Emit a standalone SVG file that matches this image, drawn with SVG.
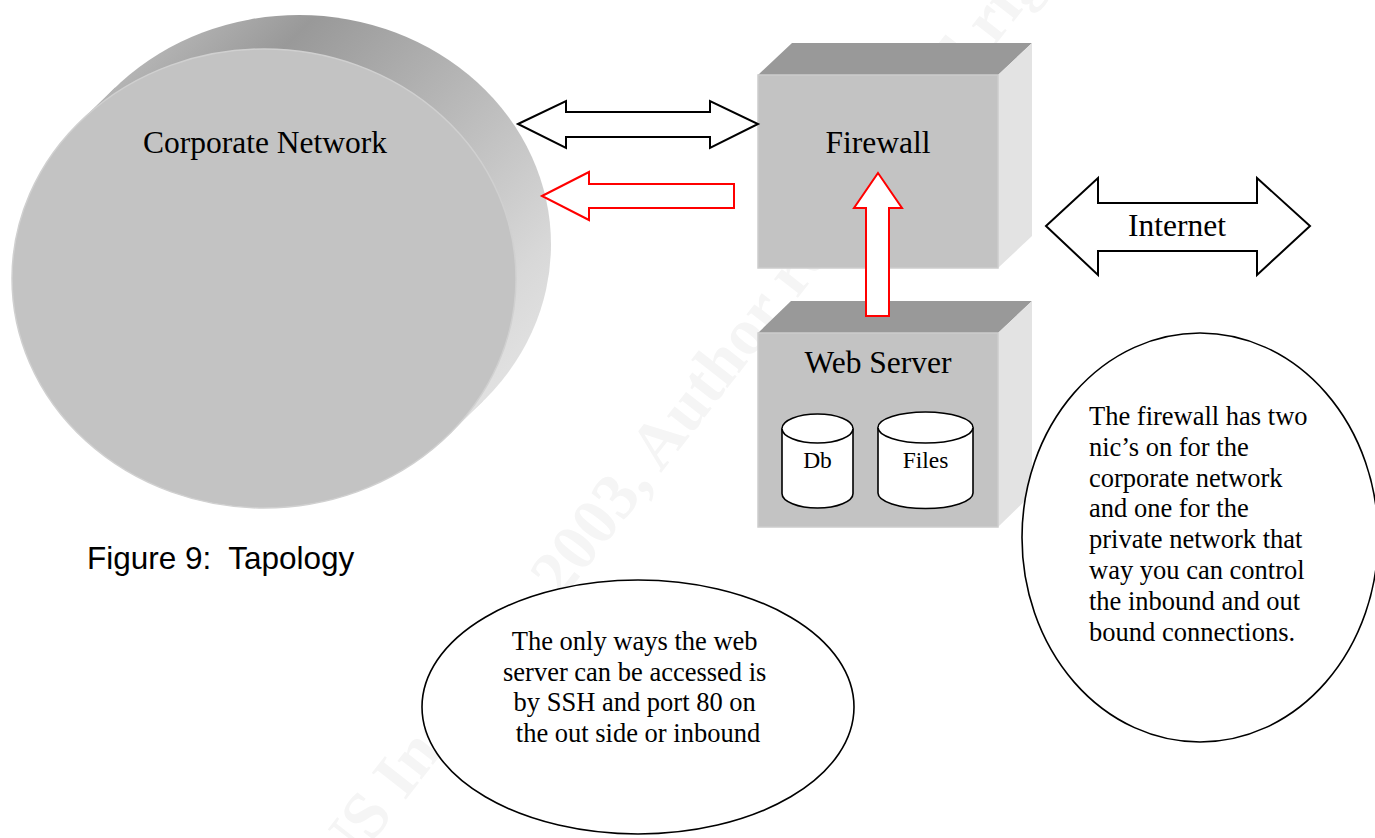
<svg xmlns="http://www.w3.org/2000/svg" width="1375" height="838" viewBox="0 0 1375 838">
  <defs>
    <linearGradient id="diskSide" gradientUnits="userSpaceOnUse" x1="0" y1="0" x2="460" y2="460">
      <stop offset="0.22" stop-color="#b4b4b4"/>
      <stop offset="0.36" stop-color="#999999"/>
      <stop offset="0.86" stop-color="#d8d8d8"/>
      <stop offset="1" stop-color="#e4e4e4"/>
    </linearGradient>
    <style>
      .serif { font-family: "Liberation Serif", "Times New Roman", serif; fill: #000; }
      .label { font-size: 31.5px; text-anchor: middle; }
      .small { font-size: 23.5px; text-anchor: middle; }
      .note { font-size: 26.5px; }
      .front { fill: #c3c3c3; stroke: #cdcdcd; stroke-width: 1.5; }
      .top { fill: #999999; }
      .side { fill: #e3e3e3; }
      .can { fill: #ffffff; stroke: #000; stroke-width: 1.6; }
      .callout { fill: #ffffff; stroke: #000; stroke-width: 1.6; }
      .flow-black { fill: #ffffff; stroke: #000; stroke-width: 2; stroke-linejoin: miter; }
      .flow-red { fill: #ffffff; stroke: #ff0000; stroke-width: 2; stroke-linejoin: miter; }
      .mark { font-family: "Liberation Serif", "Times New Roman", serif; font-size: 66px; font-weight: bold; fill: #f5f5f5; }
    </style>
  </defs>

  <rect width="1375" height="838" fill="#ffffff"/>

  <!-- copyright watermark -->
  <text class="mark" transform="translate(250,999) rotate(-52)">© SANS Institute 2003, Author retains full rights.</text>

  <!-- Corporate network disk -->
  <g id="corporate-network">
    <ellipse cx="299" cy="244.5" rx="252" ry="229.5" fill="url(#diskSide)"/>
    <polygon points="80.1,121.6 115.1,87.6 482.9,401.4 447.9,435.4" fill="url(#diskSide)"/>
    <ellipse cx="264" cy="278.5" rx="252" ry="229.5" fill="#c3c3c3" stroke="#d0d0d0" stroke-width="1.5"/>
    <text class="serif label" x="265" y="153">Corporate Network</text>
  </g>

  <!-- Firewall box -->
  <g id="firewall">
    <polygon class="top" points="758,75 792,43 1032,43 998,75"/>
    <polygon class="side" points="998,75 1032,43 1032,236 998,268"/>
    <rect class="front" x="758" y="75" width="240" height="193"/>
    <text class="serif label" x="878" y="153">Firewall</text>
  </g>

  <!-- Web server box with its stores -->
  <g id="web-server">
    <polygon class="top" points="758,333 791,301 1032,301 998,333"/>
    <polygon class="side" points="998,333 1032,301 1032,494 998,527"/>
    <rect class="front" x="758" y="333" width="240" height="194"/>
    <text class="serif label" x="878" y="373">Web Server</text>
  </g>

  <g id="db">
    <path class="can" d="M782,428.5 A35.5,14.5 0 0 1 853,428.5 L853,493.5 A35.5,14.5 0 0 1 782,493.5 Z"/>
    <path class="can" d="M782,428.5 A35.5,14.5 0 0 0 853,428.5" fill="none"/>
    <text class="serif small" x="817.5" y="468">Db</text>
  </g>

  <g id="files">
    <path class="can" d="M878,427.5 A47.5,15.5 0 0 1 973,427.5 L973,493 A47.5,15.5 0 0 1 878,493 Z"/>
    <path class="can" d="M878,427.5 A47.5,15.5 0 0 0 973,427.5" fill="none"/>
    <text class="serif small" x="925.5" y="468">Files</text>
  </g>

  <!-- Internet link -->
  <g id="internet">
    <polygon class="flow-black" points="1046,226 1098,178 1098,203 1257,203 1257,178 1310,226 1257,275 1257,251 1098,251 1098,275"/>
    <text class="serif label" x="1177" y="236">Internet</text>
  </g>

  <!-- Notes -->
  <g id="note-firewall">
    <ellipse class="callout" cx="1200" cy="537.5" rx="178" ry="204.5"/>
    <text class="serif note" x="1089">
      <tspan x="1089" y="425">The firewall has two</tspan>
      <tspan x="1089" y="456">nic’s on for the</tspan>
      <tspan x="1089" y="486.7">corporate network</tspan>
      <tspan x="1089" y="517.4">and one for the</tspan>
      <tspan x="1089" y="548.2">private network that</tspan>
      <tspan x="1089" y="579">way you can control</tspan>
      <tspan x="1089" y="609.8">the inbound and out</tspan>
      <tspan x="1089" y="640.6">bound connections.</tspan>
    </text>
  </g>

  <g id="note-webserver">
    <ellipse class="callout" cx="638" cy="707" rx="216" ry="127"/>
    <text class="serif note" text-anchor="middle">
      <tspan x="638" y="650">The only ways the web</tspan>
      <tspan x="638" y="680.7">server can be accessed is</tspan>
      <tspan x="638" y="711.4">by SSH and port 80 on</tspan>
      <tspan x="638" y="742.1">the out side or inbound</tspan>
    </text>
  </g>

  <g id="caption">
    <text x="87" y="569" font-family="'Liberation Sans', Arial, sans-serif" font-size="31.5px" fill="#000" style="white-space:pre">Figure 9:  Tapology</text>
  </g>

  <!-- Connectors -->
  <g id="connectors">
    <polygon class="flow-black" points="518,124 566,101 566,112 710,112 710,101 758,124 710,148 710,137 566,137 566,148"/>
    <polygon class="flow-red" points="542,196 589,172 589,184 734,184 734,208 589,208 589,220"/>
    <polygon class="flow-red" points="878,173 902,208 889,208 889,316 866,316 866,208 854,208"/>
  </g>
</svg>
